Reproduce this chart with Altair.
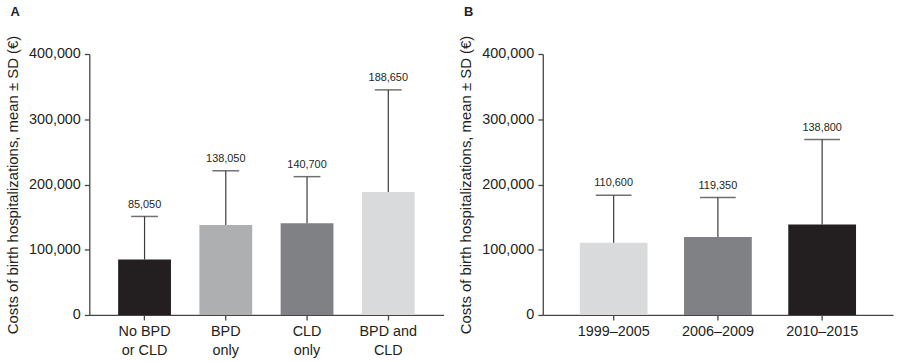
import altair as alt
import pandas as pd

# Panel A data
cats_a = ["No BPD\nor CLD", "BPD\nonly", "CLD\nonly", "BPD and\nCLD"]
means_a = [85050, 138050, 140700, 188650]
upper_a = [151000, 221000, 212000, 345000]
colors_a = ["#231f20", "#aeafb1", "#808184", "#d9dadb"]

# Panel B data
cats_b = ["1999–2005", "2006–2009", "2010–2015"]
means_b = [110600, 119350, 138800]
upper_b = [183500, 180000, 269000]
colors_b = ["#d9dadb", "#808184", "#231f20"]

y_ticks = [0, 100000, 200000, 300000, 400000]
y_title = "Costs of birth hospitalizations, mean ± SD (€)"
FONT = "Liberation Sans"


def panel(cats, means, uppers, colors, letter, width, cap):
    df = pd.DataFrame({
        "cat": cats,
        "mean": means,
        "upper": uppers,
        "label": [f"{m:,}" for m in means],
    })
    x = alt.X(
        "cat:N", sort=cats, title=None,
        scale=alt.Scale(paddingInner=0.35, paddingOuter=0.355),
        axis=alt.Axis(labelAngle=0, labelExpr="split(datum.label, '\\n')",
                      labelFontSize=14.5, labelLineHeight=19, labelPadding=5,
                      tickSize=5, labelColor="#231f20", labelFont=FONT,
                      domainColor="#444", tickColor="#444", labelBaseline="top",
                      domainWidth=1.3, tickWidth=1.3),
    )
    y_scale = alt.Scale(domain=[0, 400000], nice=False)
    y_axis = alt.Axis(values=y_ticks, labelExpr="format(datum.value, ',')",
                      grid=False, tickSize=5,
                      labelFontSize=14.5, labelColor="#231f20", labelFont=FONT,
                      titleFontSize=15, titleFontWeight="normal", titleFont=FONT,
                      titleColor="#231f20", domainColor="#444", tickColor="#444",
                      domainWidth=1.3, tickWidth=1.3,
                      labelPadding=4, titlePadding=8)
    base = alt.Chart(df).encode(x=x)
    bars = base.mark_bar().encode(
        y=alt.Y("mean:Q", scale=y_scale, axis=y_axis, title=y_title),
        color=alt.Color("cat:N", scale=alt.Scale(domain=cats, range=colors), legend=None),
    )
    rule = base.mark_rule(color="#3a3a3a", strokeWidth=1.2).encode(
        y=alt.Y("mean:Q", scale=y_scale, axis=y_axis, title=y_title), y2="upper:Q")
    caps = base.mark_tick(color="#333", thickness=1.5, size=cap).encode(
        y=alt.Y("upper:Q", scale=y_scale, axis=y_axis, title=y_title))
    text = base.mark_text(dy=-12, fontSize=11, font=FONT, color="#231f20").encode(
        y=alt.Y("upper:Q", scale=y_scale, axis=y_axis, title=y_title), text="label:N")
    return alt.layer(bars, rule, caps, text).properties(
        width=width, height=263,
        title=alt.TitleParams(letter, anchor="start", frame="bounds", fontSize=13,
                              fontWeight="bold", font=FONT, offset=16, dx=5,
                              color="#231f20"),
    )


chart_a = panel(cats_a, means_a, upper_a, colors_a, "A", 357, 27)
chart_b = panel(cats_b, means_b, upper_b, colors_b, "B", 353, 36)

chart = (
    alt.hconcat(chart_a, chart_b, spacing=15)
    .resolve_scale(color="independent")
    .configure_view(stroke=None)
)

chart.save("out.html", embed_options={"renderer": "svg", "actions": False})
